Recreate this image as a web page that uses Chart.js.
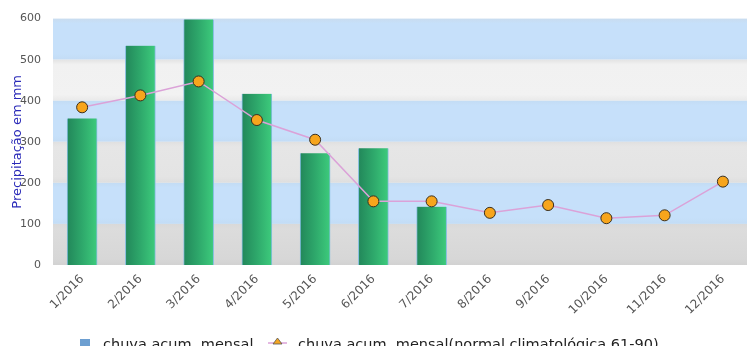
<!DOCTYPE html>
<html>
<head>
<meta charset="utf-8">
<script src="https://cdn.jsdelivr.net/npm/chart.js@4/dist/chart.umd.min.js"></script>
<style>
  html, body { margin: 0; padding: 0; background: #ffffff; overflow: hidden; }
  #wrap { width: 747px; height: 346px; overflow: hidden; position: relative; }
  canvas { display: block; }
</style>
</head>
<body>
<div id="wrap"><canvas id="c" width="760" height="360"></canvas></div>
<script>
// Monthly rainfall, 2016
const months = ['1/2016','2/2016','3/2016','4/2016','5/2016','6/2016','7/2016','8/2016','9/2016','10/2016','11/2016','12/2016'];
const monthlyRain = [357, 534, 598, 417, 272, 284, 142, null, null, null, null, null];
const climateNormal = [384, 413, 447, 353, 305, 155, 155, 127, 146, 114, 121, 203];
const seriesNames = ['chuva acum. mensal', 'chuva acum. mensal(normal climatológica 61-90)'];
const yTicks = [0, 100, 200, 300, 400, 500, 600];
const yTitle = 'Precipitação em mm';

const FONT = '"DejaVu Sans", Verdana, sans-serif';

// Horizontal bands behind the plot, one per 100 mm step
const bandPlugin = {
  id: 'bands',
  beforeDatasetsDraw(chart) {
    const { ctx, chartArea: a, scales: { y } } = chart;
    const bands = [
      { from: 500, to: 600, c: ['#c9dcef', '#c6e0fa', '#c6e0fa', '#c3dcf5'] },
      { from: 400, to: 500, c: ['#e3e3e3', '#f1f1f1', '#f2f2f2', '#e9e9e9'] },
      { from: 300, to: 400, c: ['#c3dcf4', '#c6e0fa', '#c6e0fa', '#c3dcf5'] },
      { from: 200, to: 300, c: ['#e0e0e0', '#e6e6e6', '#e4e4e4', '#dedede'] },
      { from: 100, to: 200, c: ['#c3dcf4', '#c6e0fa', '#c6e0fa', '#c3dcf5'] },
      { from: 0,   to: 100, c: ['#d9d9d9', '#dcdcdc', '#d7d7d7', '#d2d2d2'] }
    ];
    ctx.save();
    bands.forEach(b => {
      const top = y.getPixelForValue(b.to);
      const bot = y.getPixelForValue(b.from);
      const g = ctx.createLinearGradient(0, top, 0, bot);
      g.addColorStop(0, b.c[0]);
      g.addColorStop(0.12, b.c[1]);
      g.addColorStop(0.85, b.c[2]);
      g.addColorStop(1, b.c[3]);
      ctx.fillStyle = g;
      ctx.fillRect(a.left, top, a.right - a.left, bot - top);
    });
    ctx.restore();
  }
};

// Legend row under the axis labels
const legendPlugin = {
  id: 'bottomLegend',
  afterDraw(chart) {
    const { ctx } = chart;
    const base = 349;
    ctx.save();
    ctx.font = '14.5px ' + FONT;
    ctx.textBaseline = 'alphabetic';
    // bar series swatch
    ctx.fillStyle = '#6d9fd1';
    ctx.fillRect(80, 339, 10, 10);
    ctx.fillStyle = '#222222';
    ctx.fillText(chart.data.datasets[1].label, 103, base);
    // line series swatch
    ctx.strokeStyle = '#dba2d8';
    ctx.lineWidth = 1.5;
    ctx.beginPath();
    ctx.moveTo(268, 343);
    ctx.lineTo(287, 343);
    ctx.stroke();
    ctx.beginPath();
    ctx.moveTo(277.5, 338);
    ctx.lineTo(282, 344);
    ctx.lineTo(273, 344);
    ctx.closePath();
    ctx.fillStyle = '#f5a623';
    ctx.fill();
    ctx.strokeStyle = '#555555';
    ctx.lineWidth = 0.8;
    ctx.stroke();
    ctx.fillStyle = '#222222';
    ctx.fillText(chart.data.datasets[0].label, 298, base);
    ctx.restore();
  }
};

function barGradient(context) {
  const chart = context.chart;
  if (!chart.chartArea) return '#2fa86a';
  const x = chart.scales.x.getPixelForValue(context.dataIndex);
  const g = chart.ctx.createLinearGradient(x - 15, 0, x + 15, 0);
  g.addColorStop(0, '#22875a');
  g.addColorStop(0.5, '#2ea86b');
  g.addColorStop(1, '#3dcb7c');
  return g;
}

new Chart(document.getElementById('c'), {
  type: 'bar',
  data: {
    labels: months,
    datasets: [
      {
        type: 'line',
        label: seriesNames[1],
        data: climateNormal,
        borderColor: '#dba2d8',
        borderWidth: 1.5,
        pointBackgroundColor: '#f7a51c',
        pointBorderColor: '#3a3020',
        pointBorderWidth: 1,
        pointRadius: 5.5,
        tension: 0,
        order: 0
      },
      {
        type: 'bar',
        label: seriesNames[0],
        data: monthlyRain,
        backgroundColor: barGradient,
        borderColor: '#86bde0',
        borderWidth: { left: 1, right: 1, top: 0, bottom: 0 },
        barThickness: 30,
        order: 1
      }
    ]
  },
  options: {
    responsive: false,
    animation: false,
    devicePixelRatio: 1,
    layout: { padding: { top: 15, right: 8, bottom: 0, left: 0 } },
    plugins: {
      legend: { display: false },
      title: { display: false },
      tooltip: { enabled: false }
    },
    scales: {
      x: {
        grid: { display: false, drawTicks: false },
        border: { display: false },
        ticks: {
          color: '#555555',
          font: { family: FONT, size: 12 },
          minRotation: 45,
          maxRotation: 45,
          autoSkip: false,
          padding: 7
        },
        afterFit(scale) { scale.height = 95; }
      },
      y: {
        min: 0,
        max: 600,
        afterBuildTicks(scale) { scale.ticks = yTicks.map(v => ({ value: v })); },
        grid: { display: false, drawTicks: false },
        border: { display: false },
        ticks: {
          color: '#555555',
          font: { family: FONT, size: 11 },
          padding: 12
        },
        title: {
          display: true,
          text: yTitle,
          color: '#2a2ab8',
          font: { family: FONT, size: 13 },
          padding: { top: 10, bottom: 0 }
        },
        afterFit(scale) { scale.width = 53; }
      }
    }
  },
  plugins: [bandPlugin, legendPlugin]
});
</script>
</body>
</html>
